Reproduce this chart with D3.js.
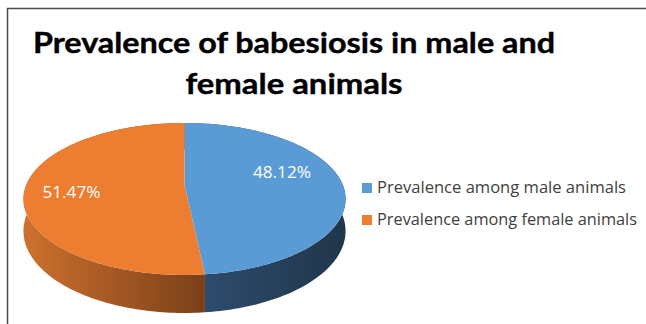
<!DOCTYPE html>
<html>
<head>
<meta charset="utf-8">
<script src="https://cdn.jsdelivr.net/npm/d3@7"></script>
<style>
  html, body { margin: 0; padding: 0; background: #fff; }
  svg { display: block; }
</style>
</head>
<body>
<svg id="chart" width="646" height="324"></svg>
<script>
// values
var categories = ["Prevalence among male animals", "Prevalence among female animals"];
var values = [48.12, 51.47];
var valueLabels = ["48.12%", "51.47%"];
var titleLines = ["Prevalence of babesiosis in male and", "female animals"];

var topColors = ["#5b9bd5", "#ed7d31"];
var sideStops = [["#2f4f72", "#203549"], ["#cf712e", "#7a4019"]];

var svg = d3.select("#chart");

// frame (top + left edge only are visible)
svg.append("path")
  .attr("d", "M646,8.5 H7.5 V324")
  .attr("fill", "none")
  .attr("stroke", "#4d4d4d")
  .attr("stroke-width", 1.5);

// title
svg.append("g").selectAll("text")
  .data(titleLines)
  .enter()
  .append("text")
    .attr("x", 294)
    .attr("y", function(d, i) { return 53 + i * 41; })
    .attr("text-anchor", "middle")
    .attr("textLength", function(d, i) { return i === 0 ? 522 : 217; })
    .attr("lengthAdjust", "spacingAndGlyphs")
    .style("font-family", "Lato, 'Open Sans', sans-serif")
    .style("font-weight", "bold")
    .style("font-size", "29px")
    .style("fill", "#000")
    .style("stroke", "#000")
    .style("stroke-width", 0.4)
    .text(function(d) { return d; });

// 3d pie with a bit of perspective
var cx = 184.5, cy = 185, R = 158.3, R2 = 73.4, k = 0.184, depth = 38;

function proj(a, r, drop) {
  var u = r * Math.sin(a), v = -r * Math.cos(a), w = 1 - k * v;
  return [cx + R * u / w, cy + R2 * v / w + (drop ? depth * (1 - k) / w : 0)];
}

function arcPts(a0, a1, drop) {
  var n = Math.max(2, Math.ceil(Math.abs(a1 - a0) / 0.02));
  return d3.range(n + 1).map(function(i) { return proj(a0 + (a1 - a0) * i / n, 1, drop); });
}

var pie = d3.pie().sort(null).value(function(d) { return d; });
var arcs = pie(values);
var line = d3.line();

var defs = svg.append("defs");
arcs.forEach(function(d, i) {
  var xs = arcPts(d.startAngle, d.endAngle, false).map(function(p) { return p[0]; });
  var g = defs.append("linearGradient")
    .attr("id", "side" + i)
    .attr("gradientUnits", "userSpaceOnUse")
    .attr("x1", i === 0 ? d3.min(xs) : cx - R - 5)
    .attr("x2", i === 0 ? cx + R + 5 : d3.max(xs))
    .attr("y1", 0).attr("y2", 0);
  g.append("stop").attr("offset", "0%").attr("stop-color", sideStops[i][0]);
  g.append("stop").attr("offset", "100%").attr("stop-color", sideStops[i][1]);
});

var pieG = svg.append("g");

// walls
pieG.selectAll("path.side")
  .data(arcs)
  .enter()
  .append("path")
    .attr("class", "side")
    .attr("d", function(d) {
      var top = arcPts(d.startAngle, d.endAngle, false);
      var bot = arcPts(d.startAngle, d.endAngle, true).reverse();
      return line(top.concat(bot)) + "Z";
    })
    .attr("fill", function(d, i) { return "url(#side" + i + ")"; });

// top faces
pieG.selectAll("path.top")
  .data(arcs)
  .enter()
  .append("path")
    .attr("class", "top")
    .attr("d", function(d) {
      return line([proj(0, 0, false)].concat(arcPts(d.startAngle, d.endAngle, false))) + "Z";
    })
    .attr("fill", function(d, i) { return topColors[i]; });

// data labels
var labelR = [0.62, 0.71], labelDy = [-5, 10];
pieG.selectAll("text.lbl")
  .data(arcs)
  .enter()
  .append("text")
    .attr("class", "lbl")
    .attr("x", function(d, i) { return proj((d.startAngle + d.endAngle) / 2, labelR[i], false)[0]; })
    .attr("y", function(d, i) { return proj((d.startAngle + d.endAngle) / 2, labelR[i], false)[1] + labelDy[i]; })
    .attr("text-anchor", "middle")
    .attr("textLength", 58)
    .attr("lengthAdjust", "spacingAndGlyphs")
    .style("font-family", "'Open Sans', 'Noto Sans', sans-serif")
    .style("font-size", "17px")
    .style("fill", "#fff")
    .text(function(d, i) { return valueLabels[i]; });

// legend
var legend = svg.append("g").attr("transform", "translate(362,183)");
var item = legend.selectAll("g")
  .data(categories)
  .enter()
  .append("g")
    .attr("transform", function(d, i) { return "translate(0," + i * 32 + ")"; });
item.append("rect")
  .attr("width", 10).attr("height", 10)
  .attr("fill", function(d, i) { return topColors[i]; });
item.append("text")
  .attr("x", 15)
  .attr("y", 10)
  .attr("textLength", function(d, i) { return i === 0 ? 249 : 260; })
  .attr("lengthAdjust", "spacingAndGlyphs")
  .style("font-family", "'Open Sans', 'Noto Sans', sans-serif")
  .style("font-size", "15.5px")
  .style("fill", "#404040")
  .text(function(d) { return d; });
</script>
</body>
</html>
